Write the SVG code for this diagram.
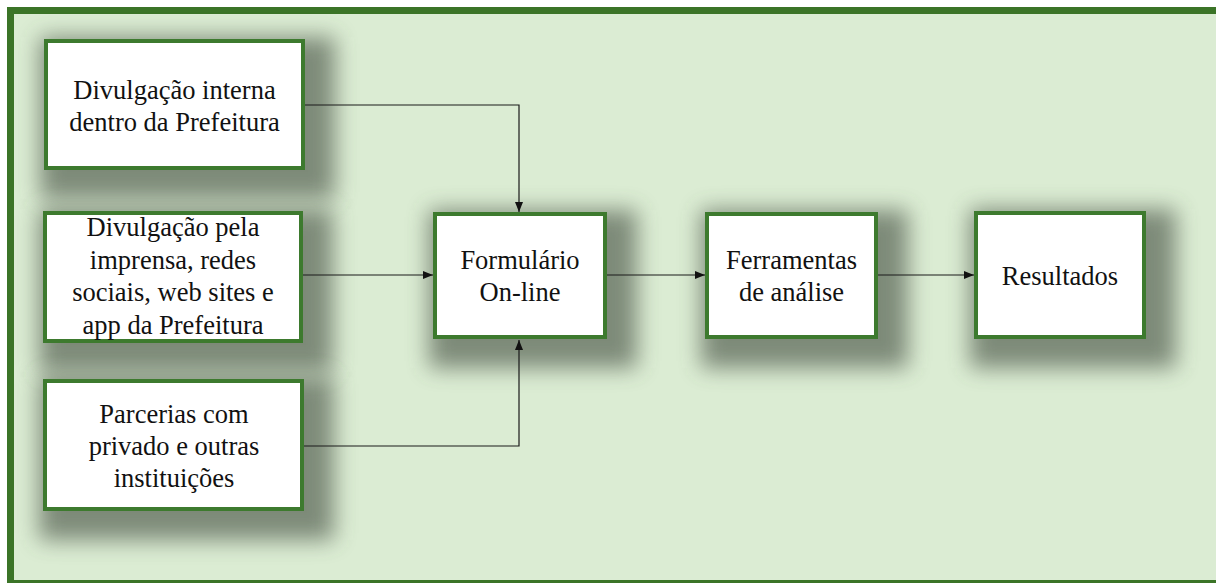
<svg xmlns="http://www.w3.org/2000/svg" width="1216" height="583" viewBox="0 0 1216 583">
<defs>
<style>
.box{fill:#ffffff;stroke:#3d7a2e;stroke-width:4}
.shd{fill:#454f43;opacity:0.62;filter:url(#blur)}
.lbl{font-family:"Liberation Serif","Times New Roman",serif;font-size:26.5px;fill:#111111;text-anchor:middle}
.con{fill:none;stroke:#1a1a1a;stroke-width:1.2}
</style>
<filter id="blur" x="-30%" y="-30%" width="160%" height="160%">
<feGaussianBlur stdDeviation="11"/>
</filter>
<marker id="arr" viewBox="0 0 10 10" refX="10" refY="5" markerWidth="10" markerHeight="10" markerUnits="userSpaceOnUse" orient="auto">
<path d="M0,1 L10,5 L0,9 Z" fill="#111111"/>
</marker>
</defs>
<rect x="0" y="0" width="1216" height="583" fill="#ffffff"/>
<rect x="7" y="7" width="1209" height="576" fill="#dbecd3"/>
<rect x="7" y="7" width="1209" height="7" fill="#3b7427"/>
<rect x="7" y="7" width="7" height="576" fill="#3b7427"/>
<rect x="7" y="580" width="1209" height="3" fill="#3b7427"/>

<g id="shadows">
<rect class="shd" x="40" y="37" width="295" height="162"/>
<rect class="shd" x="39" y="209" width="294" height="163"/>
<rect class="shd" x="39" y="377" width="295" height="163"/>
<rect class="shd" x="429" y="210" width="208" height="158"/>
<rect class="shd" x="701" y="210" width="207" height="158"/>
<rect class="shd" x="970" y="209" width="206" height="159"/>
</g>

<g id="connectors">
<path class="con" d="M305,105 H519 V212" marker-end="url(#arr)"/>
<path class="con" d="M303,275 H433" marker-end="url(#arr)"/>
<path class="con" d="M304,446 H519 V340" marker-end="url(#arr)"/>
<path class="con" d="M607,275 H705" marker-end="url(#arr)"/>
<path class="con" d="M878,275 H974" marker-end="url(#arr)"/>
</g>

<g id="n-interna">
<rect class="box" x="46" y="41" width="257" height="127"/>
<text class="lbl" x="174.5" y="99">Divulgação interna</text>
<text class="lbl" x="174.5" y="131">dentro da Prefeitura</text>
</g>
<g id="n-imprensa">
<rect class="box" x="45" y="213" width="256" height="128"/>
<text class="lbl" x="173" y="236">Divulgação pela</text>
<text class="lbl" x="173" y="269">imprensa, redes</text>
<text class="lbl" x="173" y="301">sociais, web sites e</text>
<text class="lbl" x="173" y="334">app da Prefeitura</text>
</g>
<g id="n-parcerias">
<rect class="box" x="45" y="381" width="257" height="128"/>
<text class="lbl" x="174" y="423">Parcerias com</text>
<text class="lbl" x="174" y="455">privado e outras</text>
<text class="lbl" x="174" y="487">instituições</text>
</g>
<g id="n-formulario">
<rect class="box" x="435" y="214" width="170" height="123"/>
<text class="lbl" x="520" y="269">Formulário</text>
<text class="lbl" x="520" y="301">On-line</text>
</g>
<g id="n-ferramentas">
<rect class="box" x="707" y="214" width="169" height="123"/>
<text class="lbl" x="791.5" y="269">Ferramentas</text>
<text class="lbl" x="791.5" y="301">de análise</text>
</g>
<g id="n-resultados">
<rect class="box" x="976" y="213" width="168" height="124"/>
<text class="lbl" x="1060" y="285">Resultados</text>
</g>
</svg>
